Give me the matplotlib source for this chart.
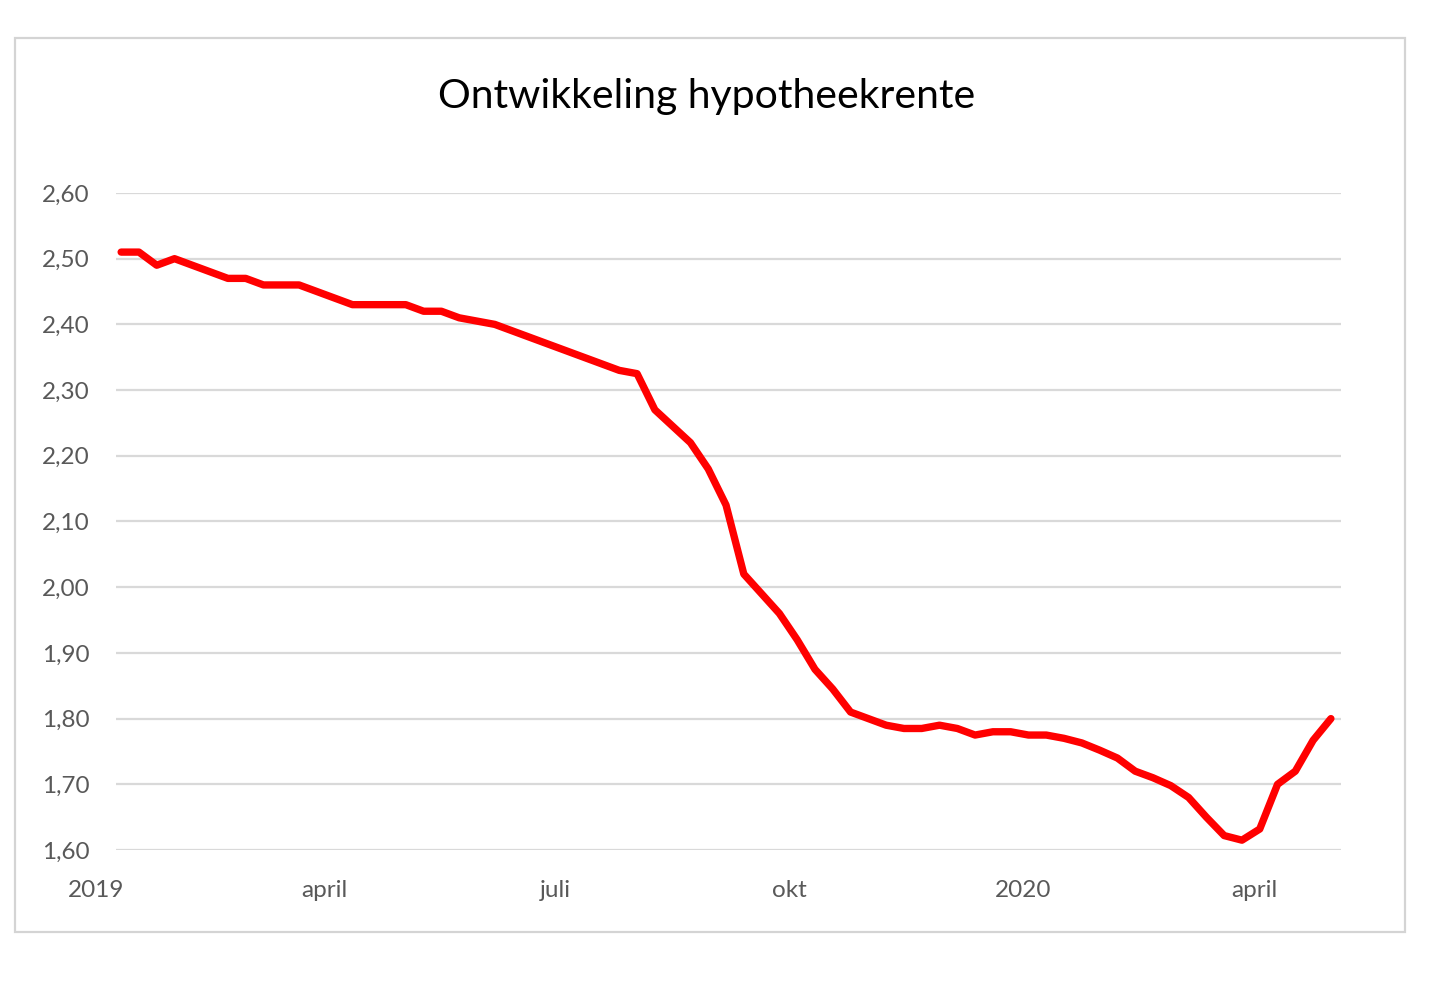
#!/usr/bin/python3

import pandas as pd
from matplotlib import pyplot as plt
from matplotlib.patches import Rectangle
from matplotlib import transforms


# weekly mortgage rate (%), first week of 2019 onwards
rate = [
    2.51, 2.51, 2.49, 2.50, 2.49, 2.48, 2.47, 2.47, 2.46, 2.46,
    2.46, 2.45, 2.44, 2.43, 2.43, 2.43, 2.43, 2.42, 2.42, 2.41,
    2.405, 2.40, 2.39, 2.38, 2.37, 2.36, 2.35, 2.34, 2.33, 2.325,
    2.27, 2.245, 2.22, 2.18, 2.125, 2.02, 1.99, 1.96, 1.92, 1.875,
    1.845, 1.81, 1.80, 1.79, 1.785, 1.785, 1.79, 1.785, 1.775, 1.78,
    1.78, 1.775, 1.775, 1.77, 1.763, 1.752, 1.74, 1.72, 1.71, 1.698,
    1.68, 1.65, 1.622, 1.615, 1.632, 1.70, 1.72, 1.767, 1.80,
]
first_week = "2019-01-11"

y_ticks = [1.6, 1.7, 1.8, 1.9, 2.0, 2.1, 2.2, 2.3, 2.4, 2.5, 2.6]
x_label_dates = ["2019-01-01", "2019-04-01", "2019-07-01",
                 "2019-10-01", "2020-01-01", "2020-04-01"]
x_labels = ["2019", "april", "juli", "okt", "2020", "april"]

title = "Ontwikkeling hypotheekrente"


def main():
    plt.rcParams["font.family"] = ["Lato", "DejaVu Sans"]
    dates = pd.date_range(first_week, periods=len(rate), freq="7D")

    fig = plt.figure(figsize=(14.4, 9.81), dpi=100)
    fig.patch.set_facecolor("white")
    # chart frame like an Excel chart object
    fig.patches.append(Rectangle((0.0104, 0.05), 0.9653, 0.9113, transform=fig.transFigure,
                                 fill=False, edgecolor="#d4d4d4", linewidth=1.6))

    ax = fig.add_axes([0.0806, 0.1335, 0.8507, 0.6698])
    ax.plot(dates, rate, color="#ff0000", linewidth=5.3, solid_joinstyle="round",
            solid_capstyle="round", zorder=3)

    ax.set_ylim(1.6, 2.6)
    ax.set_xlim(pd.Timestamp("2019-01-09"), pd.Timestamp("2020-05-05"))
    ax.set_yticks(y_ticks)
    ax.set_yticklabels([f"{t:.2f}".replace(".", ",") for t in y_ticks])
    ax.tick_params(axis="y", length=0, pad=19, labelsize=17.5, labelcolor="#595959")
    ax.set_xticks([])
    ax.grid(axis="y", color="#d9d9d9", linewidth=1.6)
    ax.set_axisbelow(True)
    for spine in ax.spines.values():
        spine.set_visible(False)

    trans = transforms.blended_transform_factory(ax.transData, ax.transAxes)
    for d, lab in zip(x_label_dates, x_labels):
        ax.text(pd.Timestamp(d), -0.062, lab, transform=trans, ha="center", va="center",
                fontsize=17.5, color="#595959", clip_on=False)

    fig.text(0.491, 0.902, title, ha="center", va="center", fontsize=29.5, color="#000000")

    fig.savefig("out.png", dpi=100)


if __name__ == "__main__":
    main()
